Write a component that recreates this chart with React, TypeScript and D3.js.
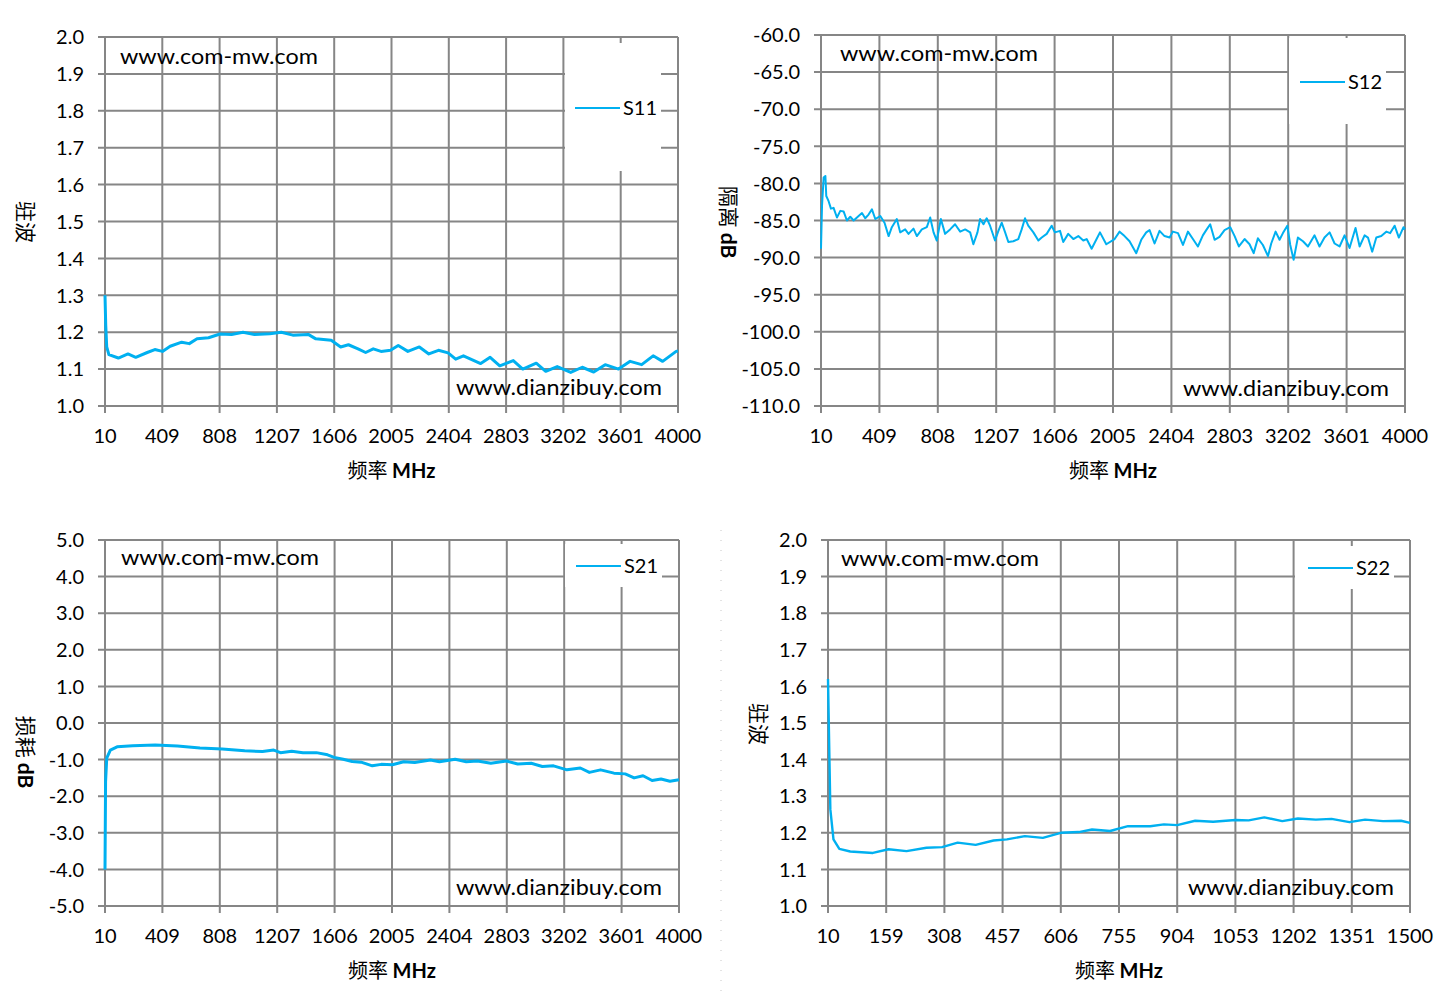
import React from 'react';
import * as d3 from 'd3';

// S11 VSWR, 10-4000 MHz
const S11_FREQ = [10, 15, 22, 37, 103, 170, 224, 304, 357, 410, 464, 544, 597, 651, 731, 811, 891, 971, 1051, 1158, 1238, 1318, 1425, 1478, 1585, 1651, 1705, 1772, 1825, 1878, 1932, 1998, 2052, 2119, 2199, 2265, 2332, 2399, 2452, 2506, 2626, 2692, 2759, 2853, 2919, 3013, 3079, 3159, 3253, 3333, 3413, 3493, 3586, 3667, 3747, 3827, 3893, 3987, 4000];
const S11_VSWR = [1.30, 1.22, 1.16, 1.139, 1.130, 1.141, 1.132, 1.145, 1.153, 1.148, 1.162, 1.173, 1.169, 1.182, 1.185, 1.195, 1.194, 1.200, 1.194, 1.196, 1.200, 1.192, 1.194, 1.182, 1.178, 1.160, 1.166, 1.155, 1.145, 1.155, 1.148, 1.151, 1.164, 1.148, 1.160, 1.141, 1.151, 1.144, 1.127, 1.136, 1.115, 1.132, 1.109, 1.123, 1.100, 1.116, 1.094, 1.107, 1.091, 1.105, 1.092, 1.112, 1.100, 1.121, 1.112, 1.136, 1.121, 1.148, 1.149];

// S12 isolation dB, 10-4000 MHz
const S12_FREQ = [10, 17, 28, 40, 46, 62, 78, 96, 119, 142, 165, 187, 210, 233, 267, 290, 312, 335, 358, 381, 415, 444, 472, 494, 528, 551, 585, 608, 642, 665, 699, 733, 756, 779, 801, 829, 858, 892, 926, 961, 995, 1029, 1051, 1079, 1097, 1120, 1142, 1165, 1199, 1222, 1245, 1268, 1290, 1324, 1358, 1381, 1404, 1426, 1461, 1495, 1518, 1552, 1586, 1608, 1643, 1665, 1699, 1734, 1768, 1802, 1825, 1859, 1893, 1916, 1959, 2016, 2050, 2084, 2118, 2164, 2198, 2232, 2255, 2289, 2323, 2357, 2392, 2414, 2449, 2483, 2517, 2551, 2585, 2619, 2642, 2669, 2699, 2733, 2767, 2806, 2836, 2865, 2904, 2938, 2966, 2995, 3029, 3064, 3086, 3116, 3143, 3166, 3196, 3216, 3239, 3268, 3303, 3337, 3382, 3416, 3450, 3485, 3519, 3553, 3587, 3621, 3662, 3690, 3724, 3747, 3776, 3804, 3838, 3872, 3899, 3929, 3958, 3990, 4000];
const S12_DB = [-88.8, -83.0, -79.2, -79.0, -81.7, -82.4, -83.4, -83.3, -84.6, -83.7, -83.8, -85.0, -84.5, -85.0, -84.4, -84.0, -84.7, -84.2, -83.5, -84.8, -84.4, -85.3, -87.1, -85.9, -84.8, -86.6, -86.2, -86.8, -86.1, -87.1, -86.2, -85.9, -84.6, -86.6, -87.7, -84.8, -86.8, -86.2, -85.5, -86.5, -86.2, -86.6, -88.2, -86.6, -84.8, -85.5, -84.7, -85.7, -87.7, -86.4, -85.3, -86.6, -87.9, -87.8, -87.5, -86.2, -84.7, -85.7, -86.6, -87.7, -87.3, -86.8, -85.7, -86.6, -86.4, -87.9, -86.8, -87.5, -87.1, -87.7, -87.5, -88.8, -87.5, -86.6, -88.2, -87.5, -86.5, -87.1, -87.8, -89.4, -87.6, -86.6, -86.3, -88.1, -86.4, -87.1, -87.3, -86.5, -86.7, -88.3, -86.5, -87.5, -88.5, -87.0, -86.3, -85.5, -87.6, -87.2, -86.3, -85.9, -87.1, -88.5, -87.5, -88.2, -89.4, -87.4, -88.3, -89.8, -88.1, -86.5, -87.6, -86.7, -85.7, -88.3, -90.3, -87.3, -87.8, -88.5, -87.0, -88.5, -87.3, -86.6, -88.1, -88.5, -87.0, -88.7, -86.0, -88.5, -87.0, -87.3, -89.2, -87.3, -87.1, -86.5, -86.7, -85.7, -87.3, -85.9, -86.2];

// S21 insertion loss dB, 10-4000 MHz
const S21_FREQ = [10, 14, 22, 47, 94, 203, 359, 514, 670, 825, 981, 1105, 1183, 1230, 1308, 1386, 1479, 1557, 1603, 1666, 1728, 1790, 1868, 1930, 2008, 2086, 2163, 2272, 2335, 2444, 2521, 2599, 2692, 2801, 2879, 2973, 3050, 3128, 3221, 3314, 3377, 3455, 3548, 3626, 3688, 3750, 3813, 3875, 3937, 4000];
const S21_DB = [-4.0, -1.6, -0.96, -0.74, -0.65, -0.62, -0.60, -0.63, -0.68, -0.71, -0.76, -0.78, -0.74, -0.81, -0.77, -0.81, -0.81, -0.87, -0.94, -0.99, -1.05, -1.07, -1.17, -1.13, -1.14, -1.06, -1.08, -1.01, -1.06, -0.99, -1.06, -1.04, -1.10, -1.04, -1.12, -1.10, -1.19, -1.17, -1.28, -1.23, -1.35, -1.28, -1.37, -1.39, -1.50, -1.44, -1.57, -1.53, -1.59, -1.55];

// S22 VSWR, 10-1500 MHz
const S22_FREQ = [10, 16, 24, 39, 67, 125, 165, 211, 262, 302, 342, 388, 434, 468, 514, 560, 606, 652, 686, 732, 778, 835, 870, 904, 950, 996, 1053, 1087, 1127, 1173, 1213, 1259, 1299, 1345, 1385, 1431, 1477, 1500];
const S22_VSWR = [1.62, 1.264, 1.182, 1.156, 1.149, 1.145, 1.155, 1.150, 1.159, 1.161, 1.173, 1.167, 1.179, 1.182, 1.191, 1.186, 1.200, 1.202, 1.209, 1.205, 1.218, 1.218, 1.223, 1.221, 1.233, 1.230, 1.235, 1.234, 1.242, 1.232, 1.239, 1.236, 1.238, 1.229, 1.236, 1.232, 1.233, 1.227];

const X_TICKS_4000 = [10, 409, 808, 1207, 1606, 2005, 2404, 2803, 3202, 3601, 4000];
const X_TICKS_1500 = [10, 159, 308, 457, 606, 755, 904, 1053, 1202, 1351, 1500];
const VSWR_TICKS = [1.0, 1.1, 1.2, 1.3, 1.4, 1.5, 1.6, 1.7, 1.8, 1.9, 2.0];
const ISO_TICKS = [-110, -105, -100, -95, -90, -85, -80, -75, -70, -65, -60];
const LOSS_TICKS = [-5, -4, -3, -2, -1, 0, 1, 2, 3, 4, 5];

const BLUE = '#00b0f0';
const GRID = '#868686';
const LATIN = 'Lato, "Open Sans", sans-serif';
const CJK = '"Noto Sans CJK SC", sans-serif';

interface PanelProps {
  plot: { x0: number; x1: number; y0: number; y1: number };
  xTicks: number[];
  yTicks: number[];
  freq: number[];
  values: number[];
  name: string;
  yCjk: string;
  yUnit?: string;
  yTitleAt: [number, number];
  legend: { x: number; y: number; w: number; h: number; lineX: number; lineY: number };
  topMark: [number, number];
  bottomMark: [number, number];
  strokeWidth: number;
}

function Panel(p: PanelProps) {
  const { x0, x1, y0, y1 } = p.plot;
  const x = d3.scaleLinear().domain([p.xTicks[0], p.xTicks[p.xTicks.length - 1]]).range([x0, x1]);
  const y = d3.scaleLinear().domain([p.yTicks[0], p.yTicks[p.yTicks.length - 1]]).range([y1, y0]);
  // Excel-style hyphen minus instead of d3's U+2212
  const fmt = (v: number) => d3.format('.1f')(v).replace('\u2212', '-');
  const line = d3.line<number>()
    .x((_, i) => x(p.freq[i]))
    .y(d => y(d))
    .curve(d3.curveLinear);
  const lg = p.legend;

  return (
    <g>
      {p.yTicks.map(t => (
        <g key={'y' + t}>
          <line x1={x0 - 7} x2={x1} y1={y(t)} y2={y(t)} stroke={GRID} strokeWidth={2} />
          <text x={x0 - 21} y={y(t)} dy="0.36em" textAnchor="end" fontFamily={LATIN} fontSize={20} fill="#000">
            {fmt(t)}
          </text>
        </g>
      ))}
      {p.xTicks.map(t => (
        <g key={'x' + t}>
          <line x1={x(t)} x2={x(t)} y1={y0} y2={y1 + 7} stroke={GRID} strokeWidth={2} />
          <text x={x(t)} y={y1 + 37} textAnchor="middle" fontFamily={LATIN} fontSize={20} fill="#000">
            {t}
          </text>
        </g>
      ))}
      <path d={line(p.values) || ''} fill="none" stroke={BLUE} strokeWidth={p.strokeWidth} strokeLinejoin="round" />
      <rect x={lg.x} y={lg.y} width={lg.w} height={lg.h} fill="#fff" />
      <line x1={lg.lineX} x2={lg.lineX + 45} y1={lg.lineY} y2={lg.lineY} stroke={BLUE} strokeWidth={2} />
      <text x={lg.lineX + 48} y={lg.lineY + 7} fontFamily={LATIN} fontSize={20} fill="#000">{p.name}</text>
      <text x={p.topMark[0]} y={p.topMark[1]} fontFamily={LATIN} fontSize={22} fill="#000"
        textLength={198} lengthAdjust="spacingAndGlyphs">www.com-mw.com</text>
      <text x={p.bottomMark[0]} y={p.bottomMark[1]} fontFamily={LATIN} fontSize={22} fill="#000"
        textLength={206} lengthAdjust="spacingAndGlyphs">www.dianzibuy.com</text>
      <text x={(x0 + x1) / 2} y={y1 + 72} textAnchor="middle" fontSize={20} fill="#000">
        <tspan fontFamily={CJK}>频率 </tspan>
        <tspan fontFamily={LATIN} fontWeight="bold">MHz</tspan>
      </text>
      <text transform={`translate(${p.yTitleAt[0]},${p.yTitleAt[1]}) rotate(90)`} textAnchor="middle" fontSize={21} fill="#000">
        <tspan fontFamily={CJK}>{p.yCjk}</tspan>
        {p.yUnit && <tspan fontFamily={LATIN} fontWeight="bold">{' ' + p.yUnit}</tspan>}
      </text>
    </g>
  );
}

export default function App() {
  return (
    <svg width={1444} height={1000} style={{ position: 'absolute', left: 0, top: 0, background: '#fff' }}>
      <rect width={1444} height={1000} fill="#fff" />
      <line x1={721} x2={721} y1={530} y2={1000} stroke="#c8c8c8" strokeWidth={1} strokeDasharray="1 9" />
      <Panel
        plot={{ x0: 105, x1: 678, y0: 37, y1: 406 }}
        xTicks={X_TICKS_4000} yTicks={VSWR_TICKS}
        freq={S11_FREQ} values={S11_VSWR} name="S11"
        yCjk="驻波" yTitleAt={[18, 222]}
        legend={{ x: 565, y: 43, w: 96, h: 128, lineX: 575, lineY: 108 }}
        topMark={[120, 64]} bottomMark={[456, 395]} strokeWidth={3}
      />
      <Panel
        plot={{ x0: 821, x1: 1405, y0: 35, y1: 406 }}
        xTicks={X_TICKS_4000} yTicks={ISO_TICKS}
        freq={S12_FREQ} values={S12_DB} name="S12"
        yCjk="隔离" yUnit="dB" yTitleAt={[721, 222]}
        legend={{ x: 1289, y: 38, w: 97, h: 86, lineX: 1300, lineY: 82 }}
        topMark={[840, 61]} bottomMark={[1183, 396]} strokeWidth={2}
      />
      <Panel
        plot={{ x0: 105, x1: 679, y0: 540, y1: 906 }}
        xTicks={X_TICKS_4000} yTicks={LOSS_TICKS}
        freq={S21_FREQ} values={S21_DB} name="S21"
        yCjk="损耗" yUnit="dB" yTitleAt={[18, 752]}
        legend={{ x: 565, y: 544, w: 97, h: 43, lineX: 576, lineY: 566 }}
        topMark={[121, 565]} bottomMark={[456, 895]} strokeWidth={3}
      />
      <Panel
        plot={{ x0: 828, x1: 1410, y0: 540, y1: 906 }}
        xTicks={X_TICKS_1500} yTicks={VSWR_TICKS}
        freq={S22_FREQ} values={S22_VSWR} name="S22"
        yCjk="驻波" yTitleAt={[751, 724]}
        legend={{ x: 1295, y: 546, w: 99, h: 43, lineX: 1308, lineY: 568 }}
        topMark={[841, 566]} bottomMark={[1188, 895]} strokeWidth={2.4}
      />
    </svg>
  );
}
